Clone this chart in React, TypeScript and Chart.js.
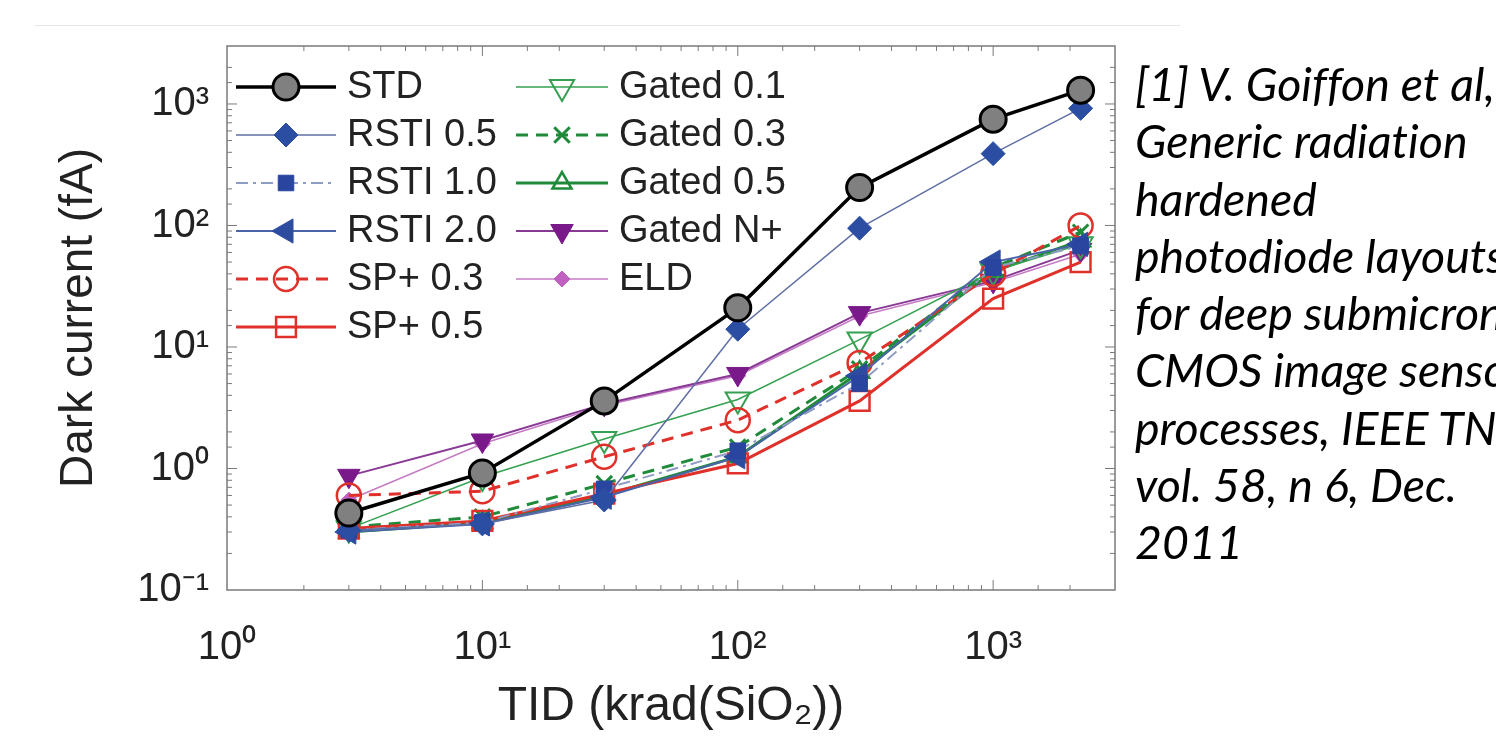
import React, { useEffect, useRef } from 'react';
import { Chart, registerables } from 'chart.js';
import { drawPoint } from 'chart.js/helpers';

Chart.register(...registerables);

// ---------- data ----------
const TID = [3, 10, 30, 100, 300, 1000, 2200];

const STD = [0.43, 0.92, 3.6, 21, 205, 750, 1300];
const RSTI_05 = [0.31, 0.35, 0.55, 14, 95, 390, 920];
const RSTI_10 = [0.31, 0.36, 0.68, 1.4, 5.0, 45, 68];
const RSTI_20 = [0.3, 0.35, 0.58, 1.25, 5.8, 50, 70];
const SP_03 = [0.6, 0.65, 1.25, 2.5, 7.4, 40, 100];
const SP_05 = [0.32, 0.37, 0.62, 1.1, 3.6, 25, 50];
const GATED_01 = [0.32, 0.85, 1.75, 3.7, 11.5, 42, 70];
const GATED_03 = [0.33, 0.4, 0.75, 1.5, 6.6, 45, 88];
const GATED_05 = [0.3, 0.36, 0.6, 1.25, 6.2, 42, 75];
const GATED_NP = [0.87, 1.7, 3.4, 6.0, 19, 35, 63];
const ELD = [0.55, 1.6, 3.3, 5.8, 18, 34, 58];

const SERIES_LABELS = [
  'STD', 'RSTI 0.5', 'RSTI 1.0', 'RSTI 2.0', 'SP+ 0.3', 'SP+ 0.5',
  'Gated 0.1', 'Gated 0.3', 'Gated 0.5', 'Gated N+', 'ELD',
];

const X_TITLE = 'TID (krad(SiO\u2082))';
const Y_TITLE = 'Dark current (fA)';
const SUPERSCRIPT: Record<string, string> = {
  '-1': '\u207B\u00B9', '0': '\u2070', '1': '\u00B9', '2': '\u00B2', '3': '\u00B3',
};

const CITATION = [
  '[1] V. Goiffon et al,',
  'Generic radiation',
  'hardened',
  'photodiode layouts',
  'for deep submicron',
  'CMOS image sensor',
  'processes, IEEE TNS',
  'vol. 58, n 6, Dec.',
  '2011',
];

// ---------- helpers ----------
const isDecade = (v: number) => {
  const l = Math.log10(v);
  return Math.abs(l - Math.round(l)) < 1e-6;
};
const decadeLabel = (v: number) => {
  if (!isDecade(v)) return '';
  const e = String(Math.round(Math.log10(v)));
  return '10' + (SUPERSCRIPT[e] ?? e);
};

const pts = (ys: number[]) => TID.map((x, i) => ({ x, y: ys[i] }));

const framePlugin = {
  id: 'matlabFrame',
  afterDraw(chart: any) {
    const { ctx, chartArea: a, scales } = chart;
    ctx.save();
    ctx.strokeStyle = '#7a7a7a';
    ctx.lineWidth = 1;
    const seg = (x1: number, y1: number, x2: number, y2: number) => {
      ctx.beginPath();
      ctx.moveTo(x1, y1);
      ctx.lineTo(x2, y2);
      ctx.stroke();
    };
    scales.x.ticks.forEach((t: any) => {
      const px = scales.x.getPixelForValue(t.value);
      if (px <= a.left + 1 || px >= a.right - 1) return;
      const len = isDecade(t.value) ? 10 : 5;
      seg(px, a.bottom, px, a.bottom - len);
      seg(px, a.top, px, a.top + len);
    });
    scales.y.ticks.forEach((t: any) => {
      const py = scales.y.getPixelForValue(t.value);
      if (py <= a.top + 1 || py >= a.bottom - 1) return;
      const len = isDecade(t.value) ? 10 : 5;
      seg(a.left, py, a.left + len, py);
      seg(a.right, py, a.right - len, py);
    });
    ctx.lineWidth = 1.5;
    ctx.strokeRect(a.left, a.top, a.right - a.left, a.bottom - a.top);
    ctx.restore();
  },
};

const LEG_COLS = [
  { lineFrom: 236, lineTo: 336, marker: 286, text: 347 },
  { lineFrom: 516, lineTo: 608, marker: 562, text: 619 },
];
const LEG_TOP = 87;
const LEG_PITCH = 48;
const LEG_PER_COL = 6;

const legendPlugin = {
  id: 'insideLegend',
  afterDraw(chart: any) {
    const { ctx } = chart;
    ctx.save();
    chart.data.datasets.forEach((ds: any, i: number) => {
      const col = LEG_COLS[i < LEG_PER_COL ? 0 : 1];
      const row = i < LEG_PER_COL ? i : i - LEG_PER_COL;
      const y = LEG_TOP + row * LEG_PITCH;
      ctx.setLineDash(ds.borderDash || []);
      ctx.strokeStyle = ds.borderColor;
      ctx.lineWidth = ds.borderWidth;
      ctx.beginPath();
      ctx.moveTo(col.lineFrom, y);
      ctx.lineTo(col.lineTo, y);
      ctx.stroke();
      ctx.setLineDash([]);
      ctx.fillStyle = ds.pointBackgroundColor;
      ctx.strokeStyle = ds.pointBorderColor;
      ctx.lineWidth = ds.pointBorderWidth;
      drawPoint(ctx, {
        pointStyle: ds.pointStyle,
        rotation: ds.pointRotation || 0,
        radius: ds.pointRadius,
        borderWidth: ds.pointBorderWidth,
      } as any, col.marker, y);
      ctx.fillStyle = '#222';
      ctx.font = '38px "Liberation Sans", Arial, sans-serif';
      ctx.textBaseline = 'middle';
      ctx.textAlign = 'left';
      ctx.fillText(ds.label, col.text, y + 1);
    });
    ctx.restore();
  },
};

const NONE = 'rgba(255,255,255,0)';

export default function App() {
  const ref = useRef<HTMLCanvasElement | null>(null);

  useEffect(() => {
    if (!ref.current) return;
    const mk = (
      label: string, ys: number[], line: string, width: number, dash: number[],
      style: string, radius: number, fill: string, border: string, bw: number, rot = 0,
    ) => ({
      label, data: pts(ys), borderColor: line, borderWidth: width, borderDash: dash,
      pointStyle: style, pointRadius: radius, pointBackgroundColor: fill,
      pointBorderColor: border, pointBorderWidth: bw, pointRotation: rot,
      pointHoverRadius: radius, fill: false, tension: 0,
    });

    const datasets = [
      mk(SERIES_LABELS[0], STD, '#000000', 3.5, [], 'circle', 13, '#808080', '#000000', 3),
      mk(SERIES_LABELS[1], RSTI_05, '#5f6fa5', 1.5, [], 'rectRot', 12, '#2b4ea2', '#2b4ea2', 1),
      mk(SERIES_LABELS[2], RSTI_10, '#8f9cc4', 2, [12, 5, 3, 5], 'rect', 11, '#2a45a0', '#2a45a0', 1),
      mk(SERIES_LABELS[3], RSTI_20, '#4a64a8', 2, [], 'triangle', 14, '#2d4ca0', '#2d4ca0', 1, -90),
      mk(SERIES_LABELS[4], SP_03, '#e0302a', 3, [12, 8], 'circle', 12, NONE, '#e0302a', 2.5),
      mk(SERIES_LABELS[5], SP_05, '#e0302a', 3, [], 'rect', 14, NONE, '#e0302a', 2.5),
      mk(SERIES_LABELS[6], GATED_01, '#35a050', 1.5, [], 'triangle', 14, NONE, '#35a050', 2, 180),
      mk(SERIES_LABELS[7], GATED_03, '#1f8a3a', 3, [12, 8], 'crossRot', 11, NONE, '#1f8a3a', 3),
      mk(SERIES_LABELS[8], GATED_05, '#1f8a3a', 3, [], 'triangle', 11, NONE, '#1f8a3a', 2.5),
      mk(SERIES_LABELS[9], GATED_NP, '#8a3a96', 2, [], 'triangle', 13, '#7a1a8a', '#7a1a8a', 1, 180),
      mk(SERIES_LABELS[10], ELD, '#c47cc4', 1.5, [], 'rectRot', 8, '#c060c0', '#c060c0', 1),
    ];

    const chart = new Chart(ref.current, {
      type: 'line',
      data: { datasets: datasets as any },
      options: {
        animation: false,
        responsive: false,
        events: [],
        layout: { padding: { left: 0, top: 46, right: 381, bottom: 0 } },
        plugins: { legend: { display: false }, tooltip: { enabled: false } },
        scales: {
          x: {
            type: 'logarithmic',
            min: 1,
            max: 3000,
            grid: { display: false, drawTicks: false },
            border: { display: false },
            afterFit: (s: any) => { s.height = 152; },
            ticks: {
              autoSkip: false,
              maxRotation: 0,
              minRotation: 0,
              padding: 34,
              color: '#222',
              font: { size: 40, family: '"Liberation Sans", Arial, sans-serif' },
              callback: (v: any) => decadeLabel(Number(v)),
            },
            title: {
              display: true,
              text: X_TITLE,
              color: '#222',
              padding: { top: 0, bottom: 6 },
              font: { size: 48, family: '"Liberation Sans", Arial, sans-serif' },
            },
          },
          y: {
            type: 'logarithmic',
            min: 0.1,
            max: 3000,
            grid: { display: false, drawTicks: false },
            border: { display: false },
            afterFit: (s: any) => { s.width = 227; },
            ticks: {
              autoSkip: false,
              padding: 18,
              color: '#222',
              font: { size: 40, family: '"Liberation Sans", Arial, sans-serif' },
              callback: (v: any) => decadeLabel(Number(v)),
            },
            title: {
              display: true,
              text: Y_TITLE,
              color: '#222',
              padding: { top: 52, bottom: 0 },
              font: { size: 46, family: '"Liberation Sans", Arial, sans-serif' },
            },
          },
        },
      },
      plugins: [framePlugin, legendPlugin],
    } as any);
    return () => chart.destroy();
  }, []);

  return (
    <div style={{ position: 'absolute', left: 0, top: 0, width: 1496, height: 742, overflow: 'hidden', background: '#fff' }}>
      <div style={{ position: 'absolute', left: 35, top: 25, width: 1145, height: 0, borderTop: '1px solid #e6e6e6' }} />
      <canvas ref={ref} width={1496} height={742} style={{ position: 'absolute', left: 0, top: 0, width: 1496, height: 742 }} />
      <div
        style={{
          position: 'absolute', left: 1135, top: 55, whiteSpace: 'nowrap',
          fontFamily: 'Lato, "Open Sans", sans-serif', fontStyle: 'italic', fontSize: 46.5,
          fontVariantLigatures: 'none', lineHeight: '57.25px', color: '#000',
        }}
      >
        {CITATION.map((l) => <div key={l}>{l}</div>)}
      </div>
    </div>
  );
}
